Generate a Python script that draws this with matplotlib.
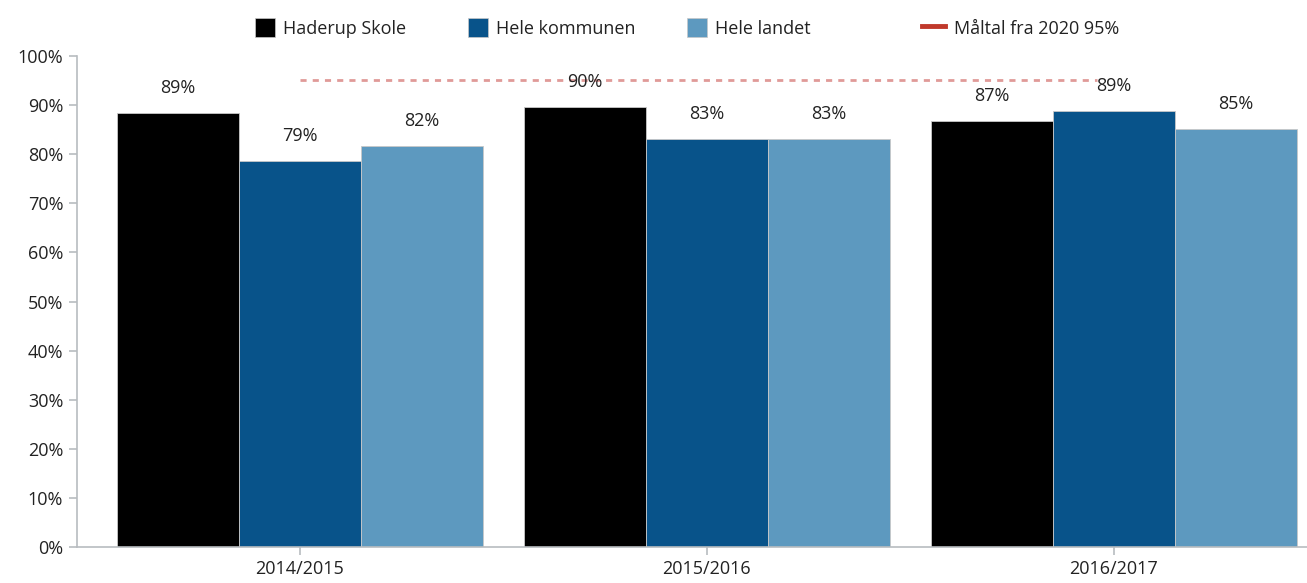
import matplotlib
matplotlib.use("Agg")
import matplotlib.pyplot as plt
import numpy as np
from matplotlib.patches import Patch
from matplotlib.lines import Line2D

plt.rcParams['font.family'] = ['Open Sans', 'DejaVu Sans']

categories = ["2014/2015", "2015/2016", "2016/2017"]
series_names = ["Haderup Skole", "Hele kommunen", "Hele landet"]
haderup = [88.4, 89.6, 86.8]
kommunen = [78.6, 83.1, 88.8]
landet = [81.6, 83.1, 85.1]
haderup_labels = ["89%", "90%", "87%"]
kommunen_labels = ["79%", "83%", "89%"]
landet_labels = ["82%", "83%", "85%"]
target_name = "Måltal fra 2020 95%"
target_value = 95.1
y_ticks = [0, 10, 20, 30, 40, 50, 60, 70, 80, 90, 100]

colors = ["#000000", "#08538a", "#5d99bf"]
grey = "#b8bcc0"
txt = "#222222"
fs = 13

fig = plt.figure(figsize=(13.07, 5.83), dpi=100)
ax = fig.add_axes([0.059, 0.0617, 0.941, 0.842])

x = np.arange(len(categories))
w = 0.3
all_vals = [haderup, kommunen, landet]
all_labels = [haderup_labels, kommunen_labels, landet_labels]
for i, (vals, labs) in enumerate(zip(all_vals, all_labels)):
    pos = x + (i - 1) * w
    ax.bar(pos, vals, width=w, color=colors[i], edgecolor="#c8c8c8", linewidth=0.6)
    for p, v, l in zip(pos, vals, labs):
        ax.annotate(l, (p, v), xytext=(0, 18), textcoords="offset points",
                    ha="center", va="center", fontsize=fs, color=txt)

ax.plot([x[0], x[-1] - 0.04], [target_value, target_value], linestyle=(0, (2.2, 2.2)),
        color="#e09a98", linewidth=2)

ax.set_ylim(0, 100)
ax.set_xlim(-0.547, 2.475)
ax.set_yticks(y_ticks)
ax.set_yticklabels([f"{t}%" for t in y_ticks], fontsize=fs, color=txt)
ax.set_xticks(x)
ax.set_xticklabels(categories, fontsize=fs, color=txt)
for s in ["top", "right"]:
    ax.spines[s].set_visible(False)
for s in ["left", "bottom"]:
    ax.spines[s].set_color(grey)
    ax.spines[s].set_linewidth(1.2)
ax.tick_params(axis="both", colors=grey, labelcolor=txt, length=6, width=1.2)
ax.tick_params(axis="y", pad=4)

handles = [Patch(facecolor=c, edgecolor="#c8c8c8", linewidth=0.5) for c in colors]
handles.append(Line2D([0], [0], color="#c0392b", linewidth=3.5))
names = series_names + [target_name]
x_pos = [255 / 1307, 468 / 1307, 687 / 1307, 922 / 1307]
for h, n, xp in zip(handles, names, x_pos):
    leg = fig.legend([h], [n], loc="center left", bbox_to_anchor=(xp, 0.952),
                     frameon=False, fontsize=fs, handlelength=1.1 if isinstance(h, Patch) else 1.3,
                     handleheight=1.2, handletextpad=0.45, borderpad=0, borderaxespad=0)
    for t in leg.get_texts():
        t.set_color(txt)

fig.savefig("out.png", dpi=100)
